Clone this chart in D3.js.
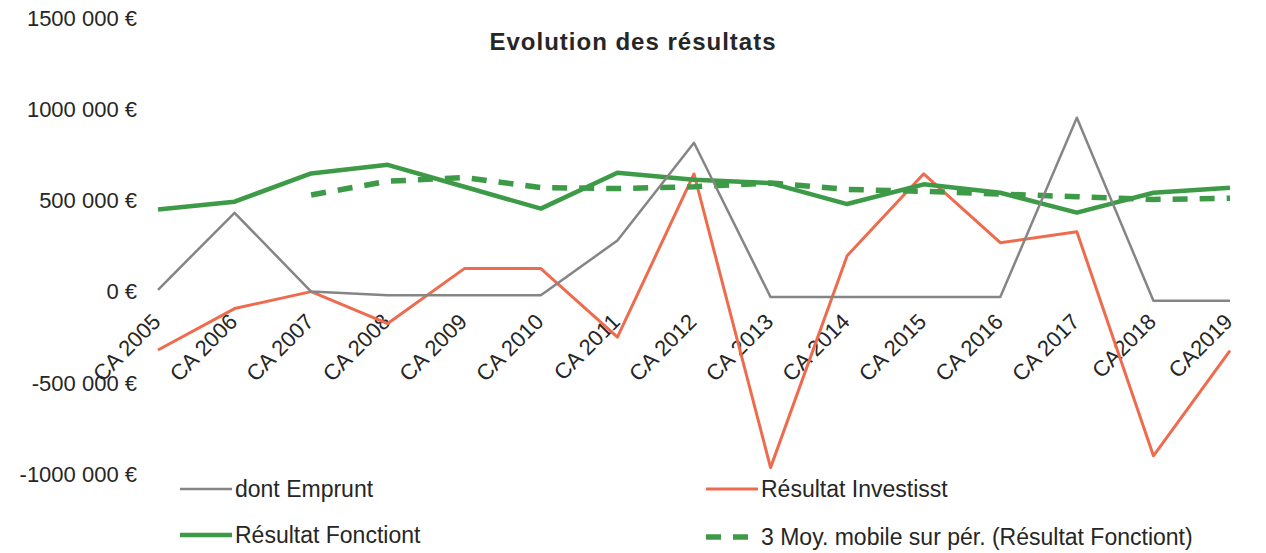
<!DOCTYPE html>
<html>
<head>
<meta charset="utf-8">
<style>
  body { margin: 0; background: #fff; }
  svg { display: block; font-family: "Liberation Sans", Arial, sans-serif; }
  .ylab, .xlab { font-size: 22px; fill: #262626; }
  .leg { font-size: 23px; fill: #262626; }
  .title { font-size: 24px; font-weight: bold; fill: #262626; }
</style>
<script src="https://cdn.jsdelivr.net/npm/d3@7"></script>
</head>
<body>
<svg width="1266" height="553"></svg>
<script>
// categories and series
let annees = ["CA 2005", "CA 2006", "CA 2007", "CA 2008", "CA 2009", "CA 2010", "CA 2011", "CA 2012",
              "CA 2013", "CA 2014", "CA 2015", "CA 2016", "CA 2017", "CA2018", "CA2019"];
let emprunt = [10000, 432000, 0, -20000, -20000, -20000, 280000, 816000,
               -30000, -30000, -30000, -30000, 953000, -50000, -50000];
let investisst = [-320000, -93000, 0, -175000, 126000, 126000, -250000, 645000,
                  -965000, 197000, 646000, 268000, 328000, -900000, -323000];
let fonctiont = [450000, 493000, 648000, 695000, 575000, 455000, 652000, 613000,
                 595000, 480000, 588000, 542000, 433000, 542000, 570000];
let moyMobile = [null, null, 530000, 605000, 625000, 570000, 565000, 575000,
                 595000, 560000, 550000, 535000, 520000, 505000, 512000];
let yTicks = [-1000000, -500000, 0, 500000, 1000000, 1500000];

let svg = d3.select("svg");

let x = d3.scalePoint().domain(annees).range([158, 1230]);
let y = d3.scaleLinear().domain([-1000000, 1500000]).range([474, 18]);

// title
svg.append("text").attr("class", "title")
   .attr("x", 633).attr("y", 50)
   .attr("text-anchor", "middle")
   .style("letter-spacing", "1px")
   .text("Evolution des résultats");

// y labels, excel style "1000 000 €"
let fmt = v => {
    let s = d3.format(",")(Math.abs(v)).replace(/,/g, " ");
    s = s.replace(/^(\d) (\d{3}) (\d{3})$/, "$1$2 $3");
    return (v < 0 ? "-" : "") + s + " €";
};
svg.append("g")
   .selectAll("text")
   .data(yTicks)
   .enter().append("text")
     .attr("class", "ylab")
     .attr("x", 137)
     .attr("y", d => y(d))
     .attr("dy", "0.35em")
     .attr("text-anchor", "end")
     .text(fmt);

// x labels rotated
svg.append("g")
   .selectAll("text")
   .data(annees)
   .enter().append("text")
     .attr("class", "xlab")
     .attr("text-anchor", "end")
     .attr("transform", d => "translate(" + (x(d) + 4) + ",323) rotate(-45)")
     .text(d => d);

let line = d3.line()
    .defined(d => d[1] !== null)
    .x(d => x(d[0]))
    .y(d => y(d[1]));
let pts = vals => annees.map((a, i) => [a, vals[i]]);

let series = [
    {vals: investisst, color: "#ee6c4d", width: 3,   dash: null},
    {vals: fonctiont,  color: "#3d9b47", width: 4.5, dash: null},
    {vals: moyMobile,  color: "#3d9b47", width: 5.5, dash: "15,12"},
    {vals: emprunt,    color: "#858585", width: 2.5, dash: null}
];
svg.append("g")
   .selectAll("path")
   .data(series)
   .enter().append("path")
     .attr("fill", "none")
     .attr("stroke", d => d.color)
     .attr("stroke-width", d => d.width)
     .attr("stroke-dasharray", d => d.dash)
     .attr("stroke-linejoin", "round")
     .attr("d", d => line(pts(d.vals)));

// legend
let legende = [
    {label: "dont Emprunt", color: "#858585", width: 2.5, dash: null, lx: 180, ly: 489},
    {label: "Résultat Investisst", color: "#ee6c4d", width: 3, dash: null, lx: 706, ly: 489},
    {label: "Résultat Fonctiont", color: "#3d9b47", width: 4.5, dash: null, lx: 180, ly: 535},
    {label: "3 Moy. mobile sur pér. (Résultat Fonctiont)", color: "#3d9b47", width: 5.5, dash: "15,12", lx: 706, ly: 537}
];
let lg = svg.append("g").selectAll("g").data(legende).enter().append("g")
    .attr("transform", d => "translate(" + d.lx + "," + d.ly + ")");
lg.append("line")
  .attr("x1", 0).attr("x2", 52)
  .attr("stroke", d => d.color)
  .attr("stroke-width", d => d.width)
  .attr("stroke-dasharray", d => d.dash);
lg.append("text").attr("class", "leg")
  .attr("x", 55).attr("dy", "0.35em")
  .text(d => d.label);
</script>
</body>
</html>
